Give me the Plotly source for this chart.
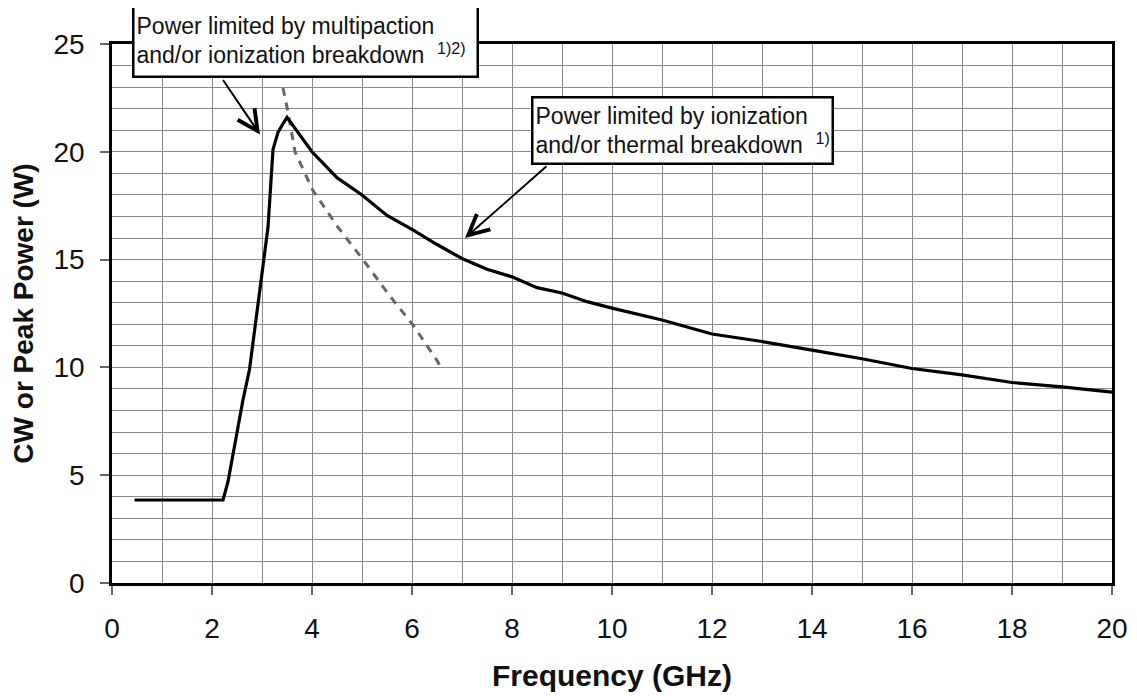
import plotly.graph_objects as go

# Solid curve: CW or peak power limit
freq_ghz = [0.45, 2.22, 2.32, 2.62, 2.75, 2.9, 3.04, 3.12, 3.22, 3.32, 3.42, 3.5,
            4.0, 4.5, 5.0, 5.5, 6.0, 6.5, 7.0, 7.5, 8.0, 8.5, 9.0, 9.5, 10.0,
            11.0, 12.0, 13.0, 14.0, 15.0, 16.0, 17.0, 18.0, 19.0, 20.0]
power_w = [3.85, 3.85, 4.7, 8.5, 9.9, 12.5, 14.9, 16.5, 20.1, 20.9, 21.3, 21.6,
           20.0, 18.8, 18.0, 17.05, 16.4, 15.7, 15.05, 14.55, 14.2, 13.7, 13.45, 13.05, 12.75,
           12.2, 11.55, 11.2, 10.8, 10.4, 9.95, 9.65, 9.3, 9.1, 8.85]

# Dashed curve
dash_freq = [3.42, 3.52, 3.66, 4.02, 4.52, 5.02, 5.56, 6.02, 6.52, 6.56]
dash_power = [22.96, 21.85, 20.0, 18.2, 16.5, 15.0, 13.3, 11.97, 10.25, 10.06]

x_ticks = [0, 2, 4, 6, 8, 10, 12, 14, 16, 18, 20]
y_ticks = [0, 5, 10, 15, 20, 25]

FONT = "Liberation Sans, Arial, sans-serif"
GRID = "#8a8a8a"

fig = go.Figure()
fig.add_trace(go.Scatter(x=dash_freq, y=dash_power, mode="lines",
                         line=dict(color="#666666", width=3, dash="8px,7px"),
                         showlegend=False, hoverinfo="skip"))
fig.add_trace(go.Scatter(x=freq_ghz, y=power_w, mode="lines",
                         line=dict(color="black", width=3.2),
                         showlegend=False))

fig.update_layout(
    width=1129, height=688,
    margin=dict(l=104, r=25, t=36, b=113),
    paper_bgcolor="white", plot_bgcolor="white",
    font=dict(family=FONT, color="#111"),
    xaxis=dict(range=[0, 20], tickvals=x_ticks, showgrid=True, gridcolor=GRID, gridwidth=1.3,
               minor=dict(dtick=1, showgrid=True, gridcolor=GRID, gridwidth=1.3, ticks=""),
               showline=True, linecolor="black", linewidth=2.5, mirror=True,
               ticks="outside", ticklen=9, tickcolor="#666", tickwidth=1.5,
               tickfont=dict(size=28, family=FONT, color="#111"),
               ticklabelstandoff=10, zeroline=False, automargin=False,
               title=dict(text="<b>Frequency (GHz)</b>", font=dict(size=30, family=FONT, color="#111"),
                          standoff=22)),
    yaxis=dict(range=[0, 25], tickvals=y_ticks, showgrid=True, gridcolor=GRID, gridwidth=1.3,
               minor=dict(dtick=1, showgrid=True, gridcolor=GRID, gridwidth=1.3, ticks=""),
               showline=True, linecolor="black", linewidth=2.5, mirror=True,
               ticks="outside", ticklen=9, tickcolor="#666", tickwidth=1.5,
               tickfont=dict(size=28, family=FONT, color="#111"),
               ticklabelstandoff=10, zeroline=False, automargin=False,
               title=dict(text="<b>CW or Peak Power (W)</b>", font=dict(size=28, family=FONT, color="#111"),
                          standoff=12)),
)

# Arrows (arrow-only annotations)
fig.add_annotation(x=2.96, y=20.8, xref="x", yref="y", text="", showarrow=True,
                   ax=-38, ay=-56, arrowhead=5, arrowsize=2, arrowwidth=2, arrowcolor="black")
fig.add_annotation(x=7.06, y=16.0, xref="x", yref="y", text="", showarrow=True,
                   ax=83, ay=-73, arrowhead=5, arrowsize=2, arrowwidth=2, arrowcolor="black")

# Text boxes
fig.add_annotation(x=0.193, y=1.0065, xref="paper", yref="paper", showarrow=False,
                   text="Power limited by multipaction<br>and/or ionization breakdown  <sup>1)2)</sup>",
                   align="left", xanchor="center", yanchor="middle",
                   width=338, height=66, bgcolor="white", bordercolor="black", borderwidth=2.5,
                   borderpad=2, font=dict(size=23, family=FONT, color="#111"))
fig.add_annotation(x=0.5705, y=0.8386, xref="paper", yref="paper", showarrow=False,
                   text="Power limited by ionization<br>and/or thermal breakdown  <sup>1)</sup>",
                   align="left", xanchor="center", yanchor="middle",
                   width=294, height=60, bgcolor="white", bordercolor="black", borderwidth=2.5,
                   borderpad=2, font=dict(size=23, family=FONT, color="#111"))

fig.write_html("out.html")
